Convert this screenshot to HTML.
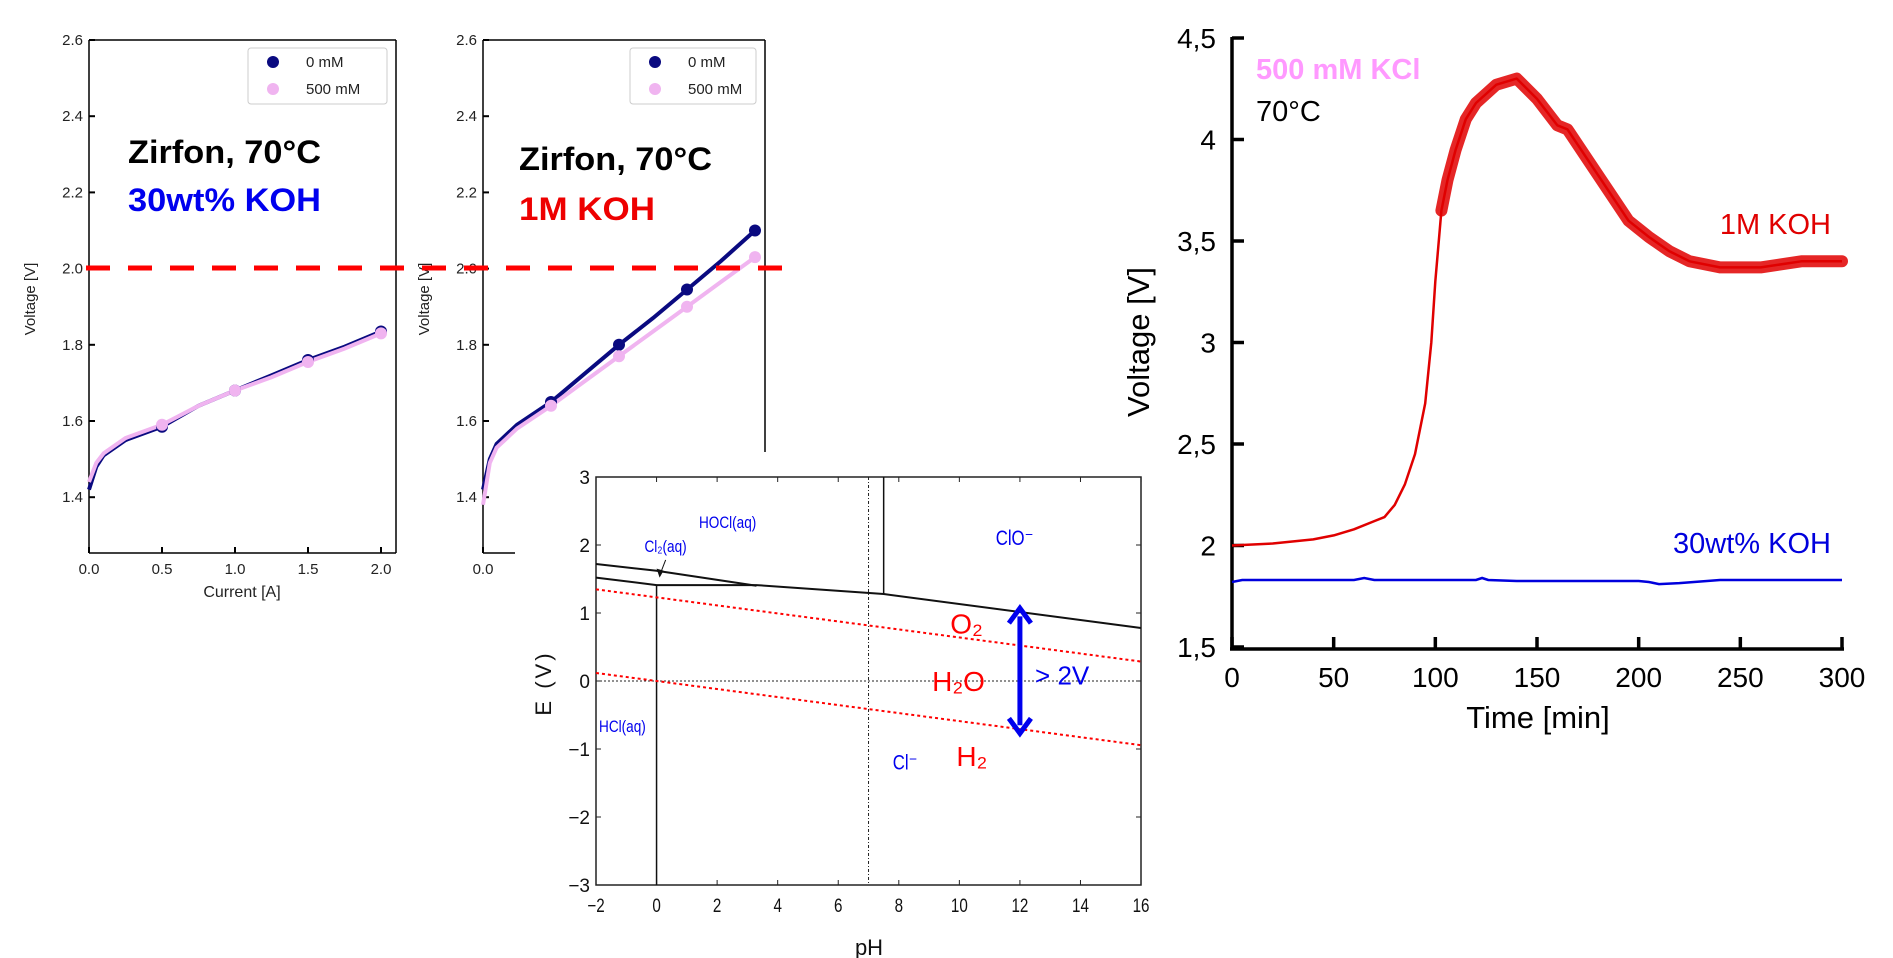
<!DOCTYPE html>
<html><head><meta charset="utf-8"><style>
html,body{margin:0;padding:0;background:#fff}
svg{display:block;font-family:"Liberation Sans","DejaVu Sans",sans-serif}
</style></head><body>
<svg id="s" width="1893" height="958" viewBox="0 0 1893 958">
<rect width="1893" height="958" fill="#fff"/>
<g id="p1"></g>
<g id="p2"></g>
<g id="p3"></g>
<g id="p4"></g>
</svg>
<script>
// Panel data
const p1Current=[0,0.05,0.1,0.25,0.5,0.75,1.0,1.25,1.5,1.75,2.0];
const p1V0=[1.42,1.48,1.51,1.55,1.585,1.64,1.68,1.72,1.76,1.795,1.835];
const p1V500=[1.44,1.49,1.515,1.555,1.59,1.64,1.68,1.715,1.755,1.79,1.83];
const p1Markers=[0.5,1.0,1.5,2.0];
const p2Current=[0,0.05,0.1,0.25,0.5,0.75,1.0,1.25,1.5,1.75,2.0];
const p2V0=[1.42,1.5,1.54,1.59,1.65,1.725,1.80,1.87,1.945,2.02,2.10];
const p2V500=[1.38,1.49,1.53,1.58,1.64,1.705,1.77,1.835,1.90,1.965,2.03];
const vTicks=["1.4","1.6","1.8","2.0","2.2","2.4","2.6"];
const cTicks=["0.0","0.5","1.0","1.5","2.0"];
// Pourbaix
const phTicks=[-2,0,2,4,6,8,10,12,14,16];
const eTicks=[-3,-2,-1,0,1,2,3];
const bUpperPH=[-2,0,3.3];const bUpperE=[1.72,1.62,1.40];
const bLowerPH=[-2,0,3.3,7.5,16];const bLowerE=[1.52,1.41,1.41,1.28,0.78];
// Time chart
const tTime=[0,20,40,50,60,70,75,80,85,90,95,98,100,103,106,110,115,120,130,140,150,160,165,175,185,195,205,215,225,240,260,280,300];
const tRed=[2.0,2.01,2.03,2.05,2.08,2.12,2.14,2.2,2.3,2.45,2.7,3.0,3.3,3.65,3.8,3.95,4.1,4.18,4.27,4.3,4.2,4.07,4.05,3.9,3.75,3.6,3.52,3.45,3.4,3.37,3.37,3.4,3.4];
const tBlueT=[0,5,60,65,70,120,123,126,140,200,205,210,220,240,300];
const tBlue=[1.82,1.83,1.83,1.84,1.83,1.83,1.84,1.83,1.825,1.825,1.82,1.81,1.815,1.83,1.83];
const tX=[0,50,100,150,200,250,300];
const tY=["1,5","2","2,5","3","3,5","4","4,5"];

const NS="http://www.w3.org/2000/svg";
function mk(p,t,a,txt){const e=document.createElementNS(NS,t);for(const k in a)e.setAttribute(k,a[k]);if(txt!==undefined)e.textContent=txt;p.appendChild(e);return e;}
function pathD(xs,ys,fx,fy){return xs.map((x,i)=>(i?'L':'M')+fx(x).toFixed(1)+' '+fy(ys[i]).toFixed(1)).join('');}

function panel(g,x0,per05,yTop,title2,col2,cur,v0,v500,opts){
  const fx=c=>x0+c/0.5*per05, fy=v=>yTop+(2.6-v)/0.2*76.2;
  vTicks.forEach(t=>{const y=fy(+t);
    let l=mk(g,'line',{x1:x0,x2:x0+6,y1:y,y2:y,stroke:'#000','stroke-width':2});
    
    let tx=mk(g,'text',{x:x0-6,y:y+5,'text-anchor':'end','font-size':15,fill:'#222'},t);
    });
  mk(g,'line',{x1:x0,x2:x0,y1:yTop,y2:553,stroke:'#000','stroke-width':1.5});
  mk(g,'line',{x1:x0,x2:opts.bottomEnd,y1:553,y2:553,stroke:'#000','stroke-width':1.5});
  mk(g,'line',{x1:x0,x2:opts.right,y1:yTop,y2:yTop,stroke:'#000','stroke-width':1.5});
  mk(g,'line',{x1:opts.right,x2:opts.right,y1:yTop,y2:opts.rightEnd,stroke:'#000','stroke-width':1.5});
  opts.xt.forEach(t=>{const x=fx(+t);
    mk(g,'line',{x1:x,x2:x,y1:553,y2:547,stroke:'#000','stroke-width':2});
    let tx=mk(g,'text',{x:x,y:574,'text-anchor':'middle','font-size':15,fill:'#222'},t);
    });
  let yl=mk(g,'text',{transform:`translate(${x0-54},299) rotate(-90)`,'text-anchor':'middle','font-size':15,fill:'#222'},'Voltage [V]');
  
  let s0=mk(g,'path',{d:pathD(cur,v0,fx,fy),fill:'none',stroke:'#0a0a80','stroke-width':4});
  
  let s5=mk(g,'path',{d:pathD(cur,v500,fx,fy),fill:'none',stroke:'#f0b4f0','stroke-width':4});
  
  p1Markers.forEach(m=>{const i=cur.indexOf(m);
    let c=mk(g,'circle',{cx:fx(m),cy:fy(v0[i]),r:6,fill:'#0a0a80'});
    let d=mk(g,'circle',{cx:fx(m),cy:fy(v500[i]),r:6,fill:'#f0b4f0'});});
  const L=opts.leg;
  let lg=mk(g,'g',{});
  mk(lg,'rect',{x:L,y:48,width:opts.legW,height:56,rx:3,fill:'#fff',stroke:'#ccc'});
  mk(lg,'circle',{cx:L+25,cy:62,r:6,fill:'#0a0a80'});
  mk(lg,'text',{x:L+58,y:67,'font-size':15,fill:'#222'},'0 mM');
  mk(lg,'circle',{cx:L+25,cy:89,r:6,fill:'#f0b4f0'});
  mk(lg,'text',{x:L+58,y:94,'font-size':15,fill:'#222'},'500 mM');
  let t1=mk(g,'text',{x:opts.tx,y:opts.ty1,'font-size':32,'font-weight':'bold',fill:'#000',textLength:193,lengthAdjust:'spacingAndGlyphs'},'Zirfon, 70°C');
  
  let t2=mk(g,'text',{x:opts.tx,y:opts.ty2,'font-size':32,'font-weight':'bold',fill:col2,textLength:opts.t2w,lengthAdjust:'spacingAndGlyphs'},title2);
  
}
const g1=document.getElementById('p1'),g2=document.getElementById('p2'),g3=document.getElementById('p3'),g4=document.getElementById('p4');
panel(g1,89,73,40,'30wt% KOH','#0000ee',p1Current,p1V0,p1V500,{right:396,rightEnd:553,bottomEnd:396,xt:cTicks,leg:248,legW:139,tx:128,ty1:163,ty2:211,t2w:193});
let ct=mk(g1,'text',{x:242,y:597,'text-anchor':'middle','font-size':16,fill:'#222'},'Current [A]');

panel(g2,483,68,40,'1M KOH','#ee0000',p2Current,p2V0,p2V500,{right:765,rightEnd:452,bottomEnd:515,xt:["0.0"],leg:630,legW:126,tx:519,ty1:170,ty2:220,t2w:136});

// Pourbaix
const px=v=>596+(v+2)*30.28, py=e=>477+(3-e)*68;
mk(g3,'rect',{x:515,y:452,width:640,height:506,fill:'#fff'});
mk(g3,'rect',{x:596,y:477,width:545,height:408,fill:'none',stroke:'#222','stroke-width':1.5});
phTicks.forEach(t=>{const x=px(t);mk(g3,'line',{x1:x,x2:x,y1:885,y2:880,stroke:'#222'});mk(g3,'line',{x1:x,x2:x,y1:477,y2:482,stroke:'#222'});
  let tx=mk(g3,'text',{x:x,y:912,'text-anchor':'middle','font-size':19,fill:'#111',transform:`translate(${x},912) scale(0.8,1) translate(${-x},-912)`},t<0?'−'+(-t):''+t);
  });
eTicks.forEach(t=>{const y=py(t);mk(g3,'line',{x1:596,x2:601,y1:y,y2:y,stroke:'#222'});mk(g3,'line',{x1:1141,x2:1136,y1:y,y2:y,stroke:'#222'});
  let tx=mk(g3,'text',{x:590,y:y+7,'text-anchor':'end','font-size':19,fill:'#111'},t<0?'−'+(-t):''+t);
  });
let ph=mk(g3,'text',{x:869,y:955,'text-anchor':'middle','font-size':22,fill:'#111'},'pH');
let ev=mk(g3,'text',{transform:'translate(551,683) rotate(-90)','text-anchor':'middle','font-size':22,fill:'#111','letter-spacing':'3'},'E (V)');
mk(g3,'line',{x1:px(7),x2:px(7),y1:477,y2:885,stroke:'#222','stroke-dasharray':'3,2,1,2'});
mk(g3,'line',{x1:596,x2:1141,y1:py(0),y2:py(0),stroke:'#222','stroke-dasharray':'2,2'});
mk(g3,'path',{d:pathD(bUpperPH,bUpperE,px,py),fill:'none',stroke:'#111','stroke-width':2});
mk(g3,'path',{d:pathD(bLowerPH,bLowerE,px,py),fill:'none',stroke:'#111','stroke-width':2});
mk(g3,'line',{x1:px(0),x2:px(0),y1:py(1.41),y2:885,stroke:'#111','stroke-width':1.5});
mk(g3,'line',{x1:px(7.5),x2:px(7.5),y1:477,y2:py(1.28),stroke:'#111','stroke-width':1.5});
mk(g3,'line',{x1:px(-2),x2:px(16),y1:py(1.23+0.118),y2:py(1.23-0.059*16),stroke:'#f00','stroke-width':2,'stroke-dasharray':'3,3'});
mk(g3,'line',{x1:px(-2),x2:px(16),y1:py(0.118),y2:py(-0.944),stroke:'#f00','stroke-width':2,'stroke-dasharray':'3,3'});
mk(g3,'line',{x1:px(0.3),x2:px(0.1),y1:py(1.78),y2:py(1.55),stroke:'#111'});
mk(g3,'path',{d:`M${px(0.1)} ${py(1.52)} l-3 -9 l7 2 z`,fill:'#111'});
const bl=(x,y,s,t,fs)=>{let e=mk(g3,'text',{x:px(x),y:py(y),'font-size':fs||17,fill:'#00e',transform:`translate(${px(x)},${py(y)}) scale(0.8,1) translate(${-px(x)},${-py(y)})`},t);return e;};
bl(1.4,2.25,'label-hocl','HOCl(aq)');
bl(-0.4,1.9,'label-cl2','Cl₂(aq)');
bl(11.2,2.0,'label-clo','ClO⁻',21);
bl(-1.9,-0.75,'label-hcl','HCl(aq)');
bl(7.8,-1.3,'label-cl-minus','Cl⁻',21);
const rl=(x,y,s,t)=>{let e=mk(g3,'text',{x:px(x),y:py(y),'font-size':28,fill:'#f00'},t);};
rl(9.7,0.7,'label-o2','O₂');rl(9.1,-0.15,'label-h2o','H₂O');rl(9.9,-1.25,'label-h2','H₂');
let gt=mk(g3,'text',{x:px(12.5),y:py(-0.05),'font-size':26,fill:'#00e'},'> 2V');
let ar=mk(g3,'g',{});
mk(ar,'line',{x1:px(12),x2:px(12),y1:py(0.95),y2:py(-0.65),stroke:'#00e','stroke-width':5});
mk(ar,'path',{d:`M${px(12)-11} ${py(0.85)} L${px(12)} ${py(1.07)} L${px(12)+11} ${py(0.85)}`,fill:'none',stroke:'#00e','stroke-width':5});
mk(ar,'path',{d:`M${px(12)-11} ${py(-0.55)} L${px(12)} ${py(-0.77)} L${px(12)+11} ${py(-0.55)}`,fill:'none',stroke:'#00e','stroke-width':5});

let dl=mk(document.getElementById('s'),'line',{x1:86,x2:782,y1:268,y2:268,stroke:'#f00','stroke-width':5,'stroke-dasharray':'24,18'});


// Time chart
const tx_=t=>1232+t/300*610, ty_=v=>647-(v-1.5)/0.5*101.5;
mk(g4,'line',{x1:1232,x2:1232,y1:37,y2:649,stroke:'#000','stroke-width':3.5});
mk(g4,'line',{x1:1230,x2:1844,y1:649,y2:649,stroke:'#000','stroke-width':3.5});
tX.forEach(t=>{const x=tx_(t);mk(g4,'line',{x1:x,x2:x,y1:649,y2:637,stroke:'#000','stroke-width':3.5});
  let e=mk(g4,'text',{x:x,y:687,'text-anchor':'middle','font-size':28,fill:'#000'},''+t);});
tY.forEach(t=>{const y=ty_(parseFloat(t.replace(',','.')));mk(g4,'line',{x1:1232,x2:1244,y1:y,y2:y,stroke:'#000','stroke-width':3.5});
  let e=mk(g4,'text',{x:1216,y:y+10,'text-anchor':'end','font-size':28,fill:'#000'},t);});
let xt=mk(g4,'text',{x:1538,y:728,'text-anchor':'middle','font-size':31,fill:'#000'},'Time [min]');
let yt=mk(g4,'text',{transform:'translate(1149,342) rotate(-90)','text-anchor':'middle','font-size':31,fill:'#000'},'Voltage [V]');
const iN=tTime.indexOf(103);
let band=mk(g4,'path',{d:pathD(tTime.slice(iN),tRed.slice(iN),tx_,ty_),fill:'none',stroke:'#e00000','stroke-width':12,'stroke-opacity':0.85,'stroke-linejoin':'round','stroke-linecap':'round'});

let rs=mk(g4,'path',{d:pathD(tTime,tRed,tx_,ty_),fill:'none',stroke:'#e00000','stroke-width':2.5,'stroke-linejoin':'round'});

let bs=mk(g4,'path',{d:pathD(tBlueT,tBlue,tx_,ty_),fill:'none',stroke:'#0000dd','stroke-width':2.5});

const lab=(x,y,t,c,s,a,w)=>{let e=mk(g4,'text',{x:x,y:y,'font-size':29,fill:c,'text-anchor':a||'start','font-weight':w||'normal'},t);};
lab(1256,79,'500 mM KCl','#ff99ff','label-500mm-kcl','start','bold');
lab(1256,121,'70°C','#000','label-temperature');
lab(1831,234,'1M KOH','#e00000','label-1m-koh','end');
lab(1831,553,'30wt% KOH','#0000dd','label-30wt-koh','end');
</script>
</body></html>
